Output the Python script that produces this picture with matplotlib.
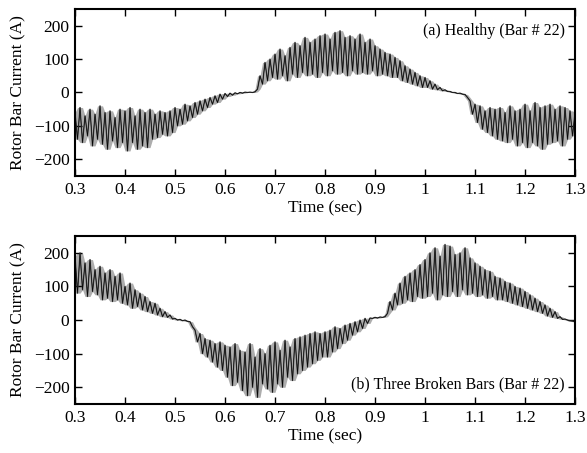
import numpy as np
import matplotlib
matplotlib.use("Agg")
import matplotlib.pyplot as plt

plt.rcParams['font.family'] = ['Liberation Serif', 'DejaVu Serif']

t_start, t_step = 0.300, 0.005

healthy = [
    -60, -140, -45, -150, -70, -130, -50, -160, -65, -140,
    -40, -155, -60, -170, -55, -145, -75, -165, -50, -150,
    -55, -175, -45, -150, -70, -170, -50, -160, -60, -165,
    -50, -140, -65, -135, -55, -125, -60, -130, -55, -120,
    -45, -100, -50, -95, -35, -85, -40, -75, -30, -65,
    -25, -55, -20, -45, -15, -35, -10, -30, -5, -20,
    -3, -12, -2, -8, -1, -4, 0, -2, 1, 0,
    1, 0, 2, 10, 50, 25, 90, 35, 100, 45,
    115, 40, 130, 50, 110, 35, 135, 55, 150, 45,
    140, 60, 165, 50, 150, 55, 160, 45, 170, 60,
    175, 50, 160, 65, 180, 55, 185, 60, 165, 50,
    170, 65, 160, 55, 175, 60, 150, 55, 160, 65,
    140, 50, 130, 55, 120, 50, 115, 45, 105, 45,
    95, 35, 80, 30, 70, 25, 60, 20, 50, 15,
    45, 15, 35, 10, 25, 8, 15, 5, 8, 3,
    3, 0, 0, -3, -2, -5, -6, -15, -25, -65,
    -35, -90, -40, -110, -55, -120, -45, -130, -50, -140,
    -45, -145, -60, -150, -40, -140, -55, -160, -50, -150,
    -35, -165, -55, -150, -30, -160, -45, -170, -40, -155,
    -35, -150, -50, -145, -40, -160, -45, -140, -55, -130,
    -60,
]

broken = [
    190, 80, 200, 90, 170, 70, 180, 85, 150, 75,
    160, 60, 140, 65, 150, 55, 130, 60, 140, 50,
    100, 45, 110, 35, 90, 40, 80, 30, 70, 25,
    55, 20, 50, 15, 35, 10, 25, 8, 15, 3,
    5, 0, 2, -2, 0, -4, -5, -20, -30, -65,
    -40, -100, -55, -110, -60, -125, -70, -140, -65, -150,
    -75, -170, -80, -195, -70, -185, -90, -210, -95, -225,
    -70, -200, -110, -230, -85, -190, -100, -205, -75, -215,
    -65, -190, -90, -200, -60, -170, -80, -180, -55, -160,
    -50, -150, -45, -140, -40, -130, -35, -120, -40, -110,
    -35, -110, -30, -95, -20, -85, -25, -70, -15, -60,
    -10, -45, -5, -35, 0, -25, 5, -10, 6, 5,
    8, 6, 9, 8, 10, 20, 55, 30, 80, 45,
    110, 50, 130, 60, 140, 55, 150, 70, 165, 65,
    180, 70, 200, 80, 215, 60, 190, 75, 225, 70,
    220, 85, 195, 70, 200, 90, 215, 75, 185, 80,
    170, 70, 160, 75, 150, 65, 145, 70, 130, 60,
    125, 60, 115, 55, 110, 50, 100, 45, 95, 40,
    85, 35, 75, 30, 65, 25, 55, 20, 45, 12,
    35, 8, 25, 5, 10, 2, 3, 0, -2, -3,
    -5,
]

panel_labels = ["(a) Healthy (Bar # 22)", "(b) Three Broken Bars (Bar # 22)"]
xticks = [0.3, 0.4, 0.5, 0.6, 0.7, 0.8, 0.9, 1.0, 1.1, 1.2, 1.3]
xticklabels = ["0.3", "0.4", "0.5", "0.6", "0.7", "0.8", "0.9", "1", "1.1", "1.2", "1.3"]
yticks = [-200, -100, 0, 100, 200]
yticklabels = ["\u2212200", "\u2212100", "0", "100", "200"]

fig = plt.figure(figsize=(5.87, 4.53), dpi=100)
ax1 = fig.add_axes([0.1278, 0.6115, 0.8518, 0.3687])
ax2 = fig.add_axes([0.1278, 0.108, 0.8518, 0.371])

FS = 12.5
for ax, data, lab, ty in [(ax1, healthy, panel_labels[0], 0.87),
                          (ax2, broken, panel_labels[1], 0.12)]:
    y = np.asarray(data, dtype=float)
    t = t_start + t_step * np.arange(len(y))
    ypad = np.pad(y, 1, mode='edge')
    upper = np.maximum.reduce([ypad[:-2], ypad[1:-1], ypad[2:]])
    lower = np.minimum.reduce([ypad[:-2], ypad[1:-1], ypad[2:]])
    ax.fill_between(t, lower, upper, color='0.68', lw=0)
    ax.plot(t, y, color='0.25', lw=0.9)
    ax.plot(t, y, color='black', lw=0.35)
    ax.set_xlim(0.3, 1.3)
    ax.set_ylim(-250, 250)
    ax.set_xticks(xticks)
    ax.set_xticklabels(xticklabels, fontsize=FS)
    ax.set_yticks(yticks)
    ax.set_yticklabels(yticklabels, fontsize=FS)
    ax.tick_params(direction='in', top=True, right=True, length=5, width=1.0, pad=4)
    for s in ax.spines.values():
        s.set_linewidth(1.5)
    ax.set_xlabel("Time (sec)", fontsize=FS, labelpad=2)
    ax.set_ylabel("Rotor Bar Current (A)", fontsize=FS, labelpad=5)
    ax.text(0.98, ty, lab, transform=ax.transAxes, ha='right', va='center', fontsize=11.5)

fig.savefig("out.png", dpi=100)
